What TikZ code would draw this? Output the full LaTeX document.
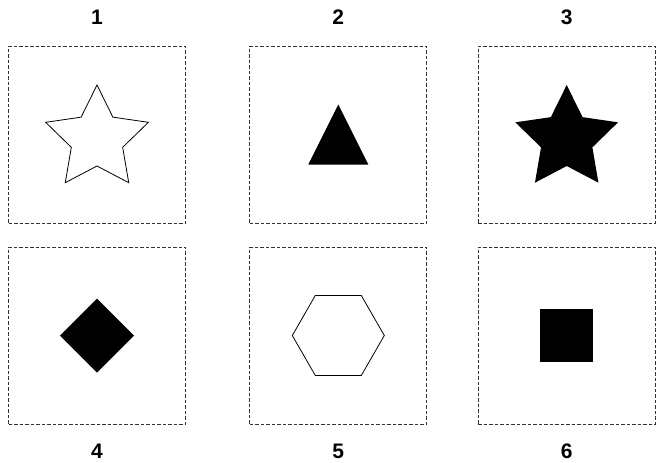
\documentclass[tikz,border=0pt]{standalone}
\usepackage{fontspec}
\setmainfont{Liberation Sans}
\usetikzlibrary{positioning}

\begin{document}
\begin{tikzpicture}[x=1pt,y=-1pt,
 panel/.style={draw=black!80,dash pattern=on 3.5pt off 2pt,line width=0.8pt,
               minimum size=177pt,inner sep=0pt},
 num/.style={font=\bfseries\fontsize{21}{21}\selectfont,inner sep=0pt},
 outline/.style={draw=black,line width=0.8pt,line join=miter,fill=white},
 solid/.style={fill=black,draw=none}]
\useasboundingbox (0,0) rectangle (656,463);
\node[panel] (panelA) at (97,134.5) {};
\node[panel] (panelB) at (338.3,134.5) {};
\node[panel] (panelC) at (566.7,134.5) {};
\node[panel] (panelD) at (97,335.5) {};
\node[panel] (panelE) at (338.3,335.5) {};
\node[panel] (panelF) at (566.7,335.5) {};
\node[num,above=21pt of panelA] (numA) {1};
\node[num,above=21pt of panelB] (numB) {2};
\node[num,above=21pt of panelC] (numC) {3};
\node[num,below=19pt of panelD] (numD) {4};
\node[num,below=19pt of panelE] (numE) {5};
\node[num,below=19pt of panelF] (numF) {6};
\begin{scope}[shift={(panelA.center)},yshift=-4.5pt]
 \draw[outline] (270:54) -- (306:27) -- (342:54) -- (18:27) -- (54:54) -- (90:27)
   -- (126:54) -- (162:27) -- (198:54) -- (234:27) -- cycle;
\end{scope}
\path[solid] ([shift={(0,-30)}]panelB.center) -- ([shift={(30,30)}]panelB.center)
  -- ([shift={(-30,30)}]panelB.center) -- cycle;
\begin{scope}[shift={(panelC.center)},yshift=-4.5pt]
 \fill[black] (270:54) -- (306:27) -- (342:54) -- (18:27) -- (54:54) -- (90:27)
   -- (126:54) -- (162:27) -- (198:54) -- (234:27) -- cycle;
\end{scope}
\path[solid] ([shift={(0,-37)}]panelD.center) -- ([shift={(37,0)}]panelD.center)
  -- ([shift={(0,37)}]panelD.center) -- ([shift={(-37,0)}]panelD.center) -- cycle;
\draw[outline] ([shift={(-46,0)}]panelE.center) -- ([shift={(-23,-40)}]panelE.center)
  -- ([shift={(23,-40)}]panelE.center) -- ([shift={(46,0)}]panelE.center)
  -- ([shift={(23,40)}]panelE.center) -- ([shift={(-23,40)}]panelE.center) -- cycle;
\path[solid] ([shift={(-26.5,-26.5)}]panelF.center) rectangle ([shift={(26.5,26.5)}]panelF.center);
\end{tikzpicture}
\end{document}
